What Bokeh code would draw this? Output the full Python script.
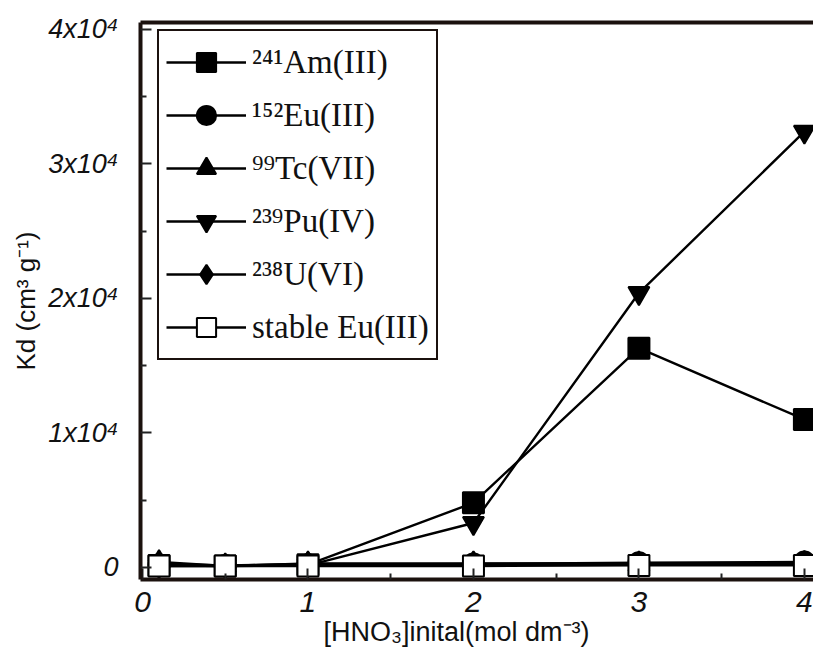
from bokeh.plotting import figure
from bokeh.models import (Range1d, FixedTicker, LinearAxis, Legend, LegendItem,
                          ColumnDataSource, Title)
from bokeh.embed import file_html
from bokeh.resources import INLINE

# ---- data ----
hno3 = [0.1, 0.5, 1, 2, 3, 4]
am241 = [150, 100, 200, 4800, 16300, 11000]
eu152 = [200, 150, 200, 250, 350, 400]
tc99 = [400, 100, 300, 250, 200, 200]
pu239 = [100, 100, 150, 3300, 20400, 32400]
u238 = [250, 150, 250, 300, 300, 350]
eu_stable = [100, 100, 100, 100, 150, 150]

y_ticks = [0, 10000, 20000, 30000, 40000]
y_minor = [5000, 15000, 25000, 35000]
y_labels = ["0", "1x10⁴", "2x10⁴", "3x10⁴", "4x10⁴"]
x_ticks = [0, 1, 2, 3, 4]
x_minor = [0.5, 1.5, 2.5, 3.5]
x_labels = ["0", "1", "2", "3", "4"]

series = [
    ("²⁴¹Am(III)", am241, "square", "black"),
    ("¹⁵²Eu(III)", eu152, "circle", "black"),
    ("⁹⁹Tc(VII)", tc99, "triangle", "black"),
    ("²³⁹Pu(IV)", pu239, "inverted_triangle", "black"),
    ("²³⁸U(VI)", u238, "diamond", "black"),
    ("stable Eu(III)", eu_stable, "square", "white"),
]

FRAME = "#1b110e"
TICK_FONT = "'Liberation Sans', Arial, sans-serif"

p = figure(width=813, height=651, output_backend="svg", toolbar_location=None,
           x_range=Range1d(-0.012, 4.055), y_range=Range1d(-900, 40520),
           min_border_left=140, min_border_right=0, min_border_top=22,
           min_border_bottom=72, x_axis_location="below", y_axis_location="left")
p.outline_line_color = None
p.xgrid.visible = False
p.ygrid.visible = False
p.background_fill_color = "white"
p.border_fill_color = "white"

items = []
for name, vals, marker, fill in series:
    src = ColumnDataSource(dict(x=hno3, y=vals))
    lr = p.line("x", "y", source=src, line_color="black", line_width=2.4)
    mr = p.scatter("x", "y", source=src, marker=marker, size=21 if marker != "diamond" else 24,
                   fill_color=fill, line_color="black", line_width=2)
    items.append(LegendItem(label=name, renderers=[lr, mr]))

# axes styling
xa = p.xaxis[0]
xa.ticker = FixedTicker(ticks=x_ticks, minor_ticks=x_minor)
xa.major_label_overrides = {t: l for t, l in zip(x_ticks, x_labels)}
ya = p.yaxis[0]
ya.ticker = FixedTicker(ticks=y_ticks, minor_ticks=y_minor)
ya.major_label_overrides = {t: l for t, l in zip(y_ticks, y_labels)}

for ax in (xa, ya):
    ax.axis_line_width = 4
    ax.axis_line_color = FRAME
    ax.major_tick_in = 11
    ax.major_tick_out = 0
    ax.minor_tick_in = 6
    ax.minor_tick_out = 0
    ax.major_tick_line_width = 2
    ax.minor_tick_line_width = 2
    ax.major_tick_line_color = "#222222"
    ax.minor_tick_line_color = "#222222"
    ax.major_label_text_font = TICK_FONT
    ax.major_label_text_font_style = "italic"
    ax.major_label_text_color = "#111111"

ya.major_label_text_font_size = "27px"
xa.major_label_text_font_size = "30px"
ya.major_label_standoff = 22
xa.major_label_standoff = 12
ya.axis_label = "Kd (cm³ g⁻¹)"
ya.axis_label_text_font = "'Liberation Sans', Arial, sans-serif"
ya.axis_label_text_font_style = "normal"
ya.axis_label_text_font_size = "26px"
ya.axis_label_text_color = "#111111"
ya.axis_label_standoff = 4

top = LinearAxis(ticker=FixedTicker(ticks=[]), axis_line_width=4, axis_line_color=FRAME,
                 major_tick_in=0, major_tick_out=0, minor_tick_in=0, minor_tick_out=0,
                 major_label_text_font_size="0px")
p.add_layout(top, "above")

xtitle = Title(text="[HNO₃]inital(mol dm⁻³)", align="left", offset=183,
               text_font="'Liberation Sans', Arial, sans-serif", text_font_size="27px",
               text_font_style="normal", text_color="#111111", standoff=0)
p.add_layout(xtitle, "below")

legend = Legend(items=items, location=(17, 219), glyph_width=80, glyph_height=48,
                label_height=48, spacing=5, padding=7, label_standoff=6,
                label_text_font="'Liberation Serif', 'Times New Roman', serif",
                label_text_font_size="33px", label_text_color="#111111",
                border_line_color=FRAME, border_line_width=2, border_line_alpha=1.0,
                background_fill_color="white", background_fill_alpha=1.0,
                margin=0)
p.add_layout(legend, "center")

open("out.html", "w").write(file_html(p, INLINE))
